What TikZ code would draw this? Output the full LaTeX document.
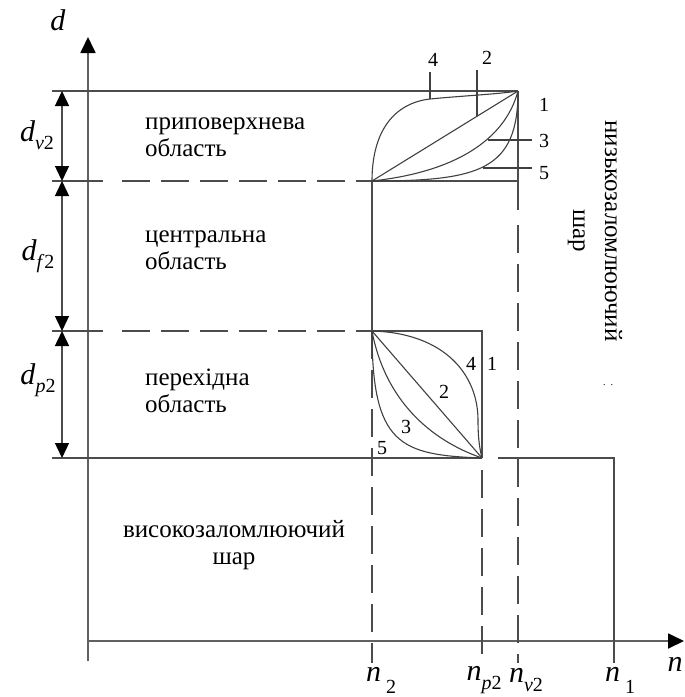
\documentclass[tikz,border=0pt]{standalone}
\usepackage{fontspec}
\setmainfont{Liberation Serif}
\usetikzlibrary{arrows.meta}
\tikzset{
  ln/.style={line width=1.4pt, draw=black!70},
  axisln/.style={line width=1.8pt, draw=black!62},
  dsh/.style={ln, dash pattern=on 28pt off 11pt},
  crv/.style={line width=1.1pt, draw=black!75},
  reg/.style={font=\fontsize{25}{27}\selectfont, align=left, anchor=west, inner sep=0pt},
  num/.style={font=\fontsize{20}{20}\selectfont, inner sep=0pt},
  lbl/.style={font=\fontsize{30}{30}\selectfont, inner sep=0pt},
  tipa/.style={-{Triangle[width=15pt,length=16pt,color=black]}},
  dimarr/.style={ln, {Triangle[width=14pt,length=15pt,color=black]}-{Triangle[width=14pt,length=15pt,color=black]}},
}
\newcommand{\sbx}[1]{\raisebox{-0.28em}{\fontsize{20}{20}\selectfont #1}}
\begin{document}
\begin{tikzpicture}[x=1pt,y=-1pt]
\useasboundingbox (0,0) rectangle (685,697);
% key points
\coordinate (O) at (88,641);
\coordinate (Ybot) at (88,661);
\coordinate (Ytop) at (88,37);
\coordinate (Xend) at (684,641);
\coordinate (A) at (372,181);
\coordinate (B) at (518,91);
\coordinate (C) at (372,331);
\coordinate (D) at (482,458);
% axes
\draw[axisln, tipa] (Ybot) -- (Ytop);
\draw[axisln, tipa] (O) -- (Xend);
% top line and dimension extension lines
\draw[ln] (52,91) -- (B);
\draw[ln] (52,181) -- (103,181);
\draw[dsh] (122,181) -- (A);
\draw[ln] (52,331) -- (103,331);
\draw[dsh] (122,331) -- (C);
\draw[ln] (52,458) -- (D);
% top box
\draw[ln] (A) -- (518,181);
\draw[ln] (B) -- (518,210);
\draw[dsh] (518,225) -- (518,663);
% n2 line
\draw[ln] (A) -- (C);
\draw[dsh] (C) -- (372,663);
% bottom box
\draw[ln] (C) -- (482,331) -- (D);
\draw[dsh] (482,470) -- (482,663);
% n1
\draw[ln] (498,458) -- (614,458) -- (614,663);
% dimension arrows
\draw[dimarr] (62,91) -- (62,181);
\draw[dimarr] (62,181) -- (62,331);
\draw[dimarr] (62,331) -- (62,458);
% top curves
\draw[crv] (A) .. controls (372,130) and (395,103) .. (430,99) .. controls (460,96) and (500,94) .. (B);
\draw[crv] (A) -- (B);
\draw[crv] (A) .. controls (455,172) and (505,140) .. (B);
\draw[crv] (A) .. controls (480,181) and (518,170) .. (B);
% top leaders
\coordinate (l4a) at (430,72); \coordinate (l4b) at (430,99);
\coordinate (l2a) at (477,70); \coordinate (l2b) at (477,116);
\coordinate (l3a) at (488,140); \coordinate (l3b) at (532,140);
\coordinate (l5a) at (483,168); \coordinate (l5b) at (532,168);
\draw[crv] (l4a) -- (l4b);
\draw[crv] (l2a) -- (l2b);
\draw[crv] (l3a) -- (l3b);
\draw[crv] (l5a) -- (l5b);
\node[num] (n4t) at (433,60) {4};
\node[num] (n2t) at (487,58) {2};
\node[num] (n1t) at (544,105) {1};
\node[num] (n3t) at (544,141) {3};
\node[num] (n5t) at (544,173) {5};
% bottom curves
\draw[crv] (C) .. controls (445,333) and (478,375) .. (478,420) .. controls (478,440) and (480,450) .. (D);
\draw[crv] (C) -- (D);
\draw[crv] (C) .. controls (385,400) and (430,440) .. (D);
\draw[crv] (C) .. controls (372,445) and (400,455) .. (D);
\node[num] (n4b) at (471,364) {4};
\node[num] (n1b) at (492,364) {1};
\node[num] (n2b) at (444,392) {2};
\node[num] (n3b) at (406,427) {3};
\node[num] (n5b) at (382,448) {5};
% region texts
\node[reg] (r1) at (145,137) {приповерхнева\\область};
\node[reg] (r2) at (145,250) {центральна\\область};
\node[reg] (r3) at (145,391) {перехідна\\область};
\node[font=\fontsize{25}{27}\selectfont, align=center, inner sep=0pt] (r4) at (234,545) {високозаломлюючий\\шар};
\node[font=\fontsize{25}{32}\selectfont, align=center, inner sep=0pt, rotate=-90] (r5) at (595,231) {низькозаломлюючий\\шар};
\node[font=\fontsize{10}{10}\selectfont, inner sep=0pt] (dots) at (608,385) {.\ \ .};
% axis labels
\node[lbl] (dlab) at (58,20) {\textit{d}};
\node[lbl] (dv) at (37,135) {\textit{d}\sbx{\textit{v}2}};
\node[lbl] (df) at (38,256) {\textit{d}\sbx{\textit{f}2}};
\node[lbl] (dp) at (38,380) {\textit{d}\sbx{\textit{p}2}};
\node[lbl] (nax) at (675,664) {\textit{n}};
\node[lbl] (n2) at (381,680) {\textit{n}\,\raisebox{-0.4em}{\fontsize{20}{20}\selectfont 2}};
\node[lbl] (np) at (484,680) {\textit{n}\sbx{\textit{p}2}};
\node[lbl] (nv) at (526,680) {\textit{n}\sbx{\textit{v}2}};
\node[lbl] (n1) at (620,680) {\textit{n}\,\raisebox{-0.4em}{\fontsize{20}{20}\selectfont 1}};
\end{tikzpicture}
\end{document}
